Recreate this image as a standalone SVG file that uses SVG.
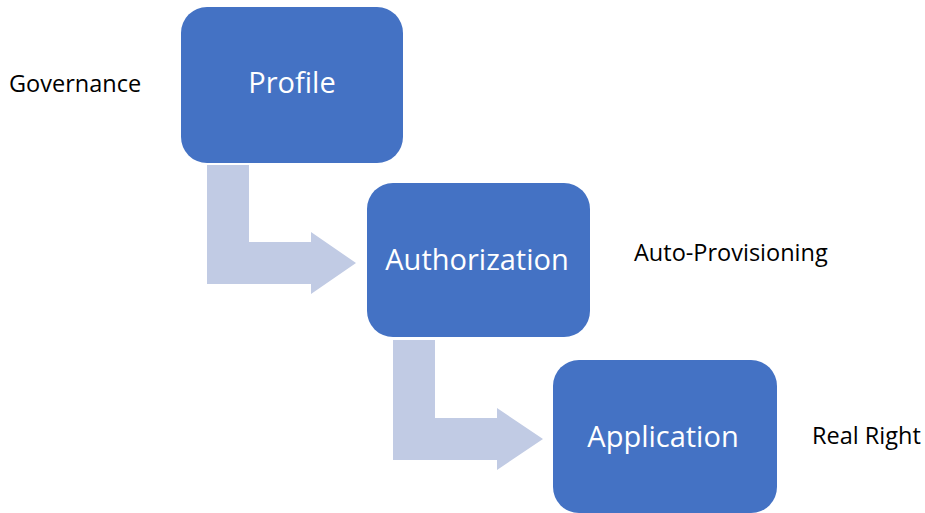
<svg xmlns="http://www.w3.org/2000/svg" width="925" height="513" viewBox="0 0 925 513">
  <style>
    .box { fill: #4472c4; }
    .box-label { font-family: "Open Sans", "Noto Sans", sans-serif; font-size: 29px; fill: #ffffff; text-anchor: middle; dominant-baseline: central; }
    .side { font-family: "Open Sans", "Noto Sans", sans-serif; font-size: 23.5px; fill: #000000; }
    .bent-arrow { fill: #c1cbe4; }
  </style>
  <rect width="925" height="513" fill="#ffffff"/>

  <!-- bent arrows between the steps -->
  <g id="connectors">
    <path class="bent-arrow" d="M207,165 H249 V242 H311 V232 L356,263 L311,294 V284 H207 Z"/>
    <path class="bent-arrow" d="M393,340 H435 V418 H497 V408 L543,439 L497,470 V460 H393 Z"/>
  </g>

  <g id="profile">
    <rect class="box" x="181" y="7" width="222" height="156" rx="26"/>
    <text class="box-label" x="292" y="81">Profile</text>
  </g>

  <g id="authorization">
    <rect class="box" x="367" y="183" width="223" height="154" rx="26"/>
    <text class="box-label" x="477" y="258">Authorization</text>
  </g>

  <g id="application">
    <rect class="box" x="553" y="360" width="224" height="153" rx="26"/>
    <text class="box-label" x="663" y="435">Application</text>
  </g>

  <g id="governance">
    <text class="side" x="9" y="92">Governance</text>
  </g>

  <g id="auto-provisioning">
    <text class="side" x="634" y="261">Auto-Provisioning</text>
  </g>

  <g id="real-right">
    <text class="side" x="812" y="444">Real Right</text>
  </g>
</svg>
